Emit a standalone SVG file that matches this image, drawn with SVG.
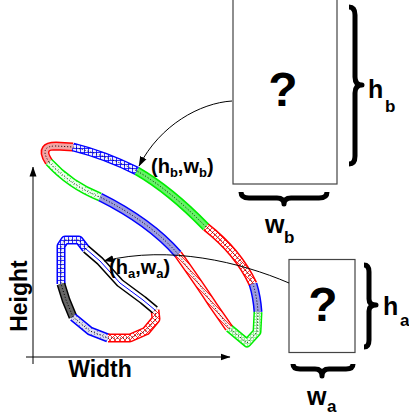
<svg xmlns="http://www.w3.org/2000/svg" width="409" height="419" viewBox="0 0 409 419">
<style>
text{font-family:"Liberation Sans",Arial,sans-serif;font-weight:bold;fill:#000}
.box{fill:#fff;stroke:#444;stroke-width:1.2}
.q{font-size:48px;text-anchor:middle}
.brace{fill:none;stroke:#000;stroke-width:5;stroke-linejoin:round}
.lbl{font-size:25px}
.sub{font-size:17px}
.pl{font-size:20px}
.ps{font-size:13px}
.ax{font-size:23px}
.conn{fill:none;stroke:#000;stroke-width:1}
.o{fill:none;stroke-width:9;stroke-linecap:butt;stroke-linejoin:round}
.i{fill:none;stroke-width:6;stroke-linecap:butt;stroke-linejoin:round}
.dot{fill:none;stroke:#000;stroke-width:1;stroke-dasharray:1 2}
.R{stroke:#f00}.B{stroke:#00f}.G{stroke:#0e0}.K{stroke:#000}
</style>
<defs>
<marker id="ah" viewBox="0 0 10 10" refX="9.5" refY="5" markerWidth="10" markerHeight="10" markerUnits="userSpaceOnUse" orient="auto"><path d="M0,1.5L10,5L0,8.5Z" fill="#000"/></marker>
<pattern id="grid" width="4" height="4" patternUnits="userSpaceOnUse"><rect width="4" height="4" fill="#eef"/><path d="M0,0.5H4M0.5,0V4" stroke="#00f" stroke-width="0.8"/></pattern>
<pattern id="xh" width="5" height="5" patternUnits="userSpaceOnUse"><rect width="5" height="5" fill="#fff"/><path d="M0,0L5,5M5,0L0,5" stroke="#f00" stroke-width="0.8"/></pattern>
<pattern id="dg" width="5" height="5" patternUnits="userSpaceOnUse"><rect width="5" height="5" fill="#fee"/><path d="M0,0L5,5M-1,4L1,6M4,-1L6,1" stroke="#f00" stroke-width="0.8"/></pattern>
<pattern id="gd" width="3" height="3" patternUnits="userSpaceOnUse"><rect width="3" height="3" fill="#fff"/><circle cx="1.5" cy="1.5" r="0.8" fill="none" stroke="#0c0" stroke-width="0.5"/></pattern>
<pattern id="gl" width="3" height="3" patternUnits="userSpaceOnUse"><rect width="3" height="3" fill="#eaffea"/><circle cx="1.5" cy="1.5" r="0.5" fill="#6c6"/></pattern>
<pattern id="bd" width="3" height="3" patternUnits="userSpaceOnUse"><rect width="3" height="3" fill="#dde"/><circle cx="1.5" cy="1.5" r="0.5" fill="#66c"/></pattern>
</defs>

<g id="axes">
<path class="conn" d="M33,364L33,167" marker-end="url(#ah)"/>
<path class="conn" d="M26,357L230,357" marker-end="url(#ah)"/>
<text class="ax" x="100" y="377" text-anchor="middle">Width</text>
<text class="ax" text-anchor="middle" transform="translate(27,296) rotate(-90)">Height</text>
</g>

<g id="loop-b">
<path class="o R" d="M49,162Q43,153 46,149Q48,146 56,146L73,147"/>
<path class="i" stroke="#f2a4a4" d="M49,162Q43,153 46,149Q48,146 56,146L73,147"/>
<path class="o B" d="M73,147Q105,155 137,171"/>
<path class="i" stroke="url(#grid)" d="M73,147Q105,155 137,171"/>
<path class="o G" d="M137,171Q170,190 206,227"/>
<path class="i" stroke="#66f266" d="M137,171Q170,190 206,227"/>
<path class="o R" d="M206,227Q238,252 253,284"/>
<path class="i" stroke="url(#xh)" d="M206,227Q238,252 253,284"/>
<path class="o B" d="M253,284Q257,297 258,312"/>
<path class="i" stroke="#9c9ce0" d="M253,284Q257,297 258,312"/>
<path class="o G" d="M258,312L257,332L247,343L229,328"/>
<path class="i" stroke="url(#gd)" d="M258,312L257,332L247,343L229,328"/>
<path class="o R" d="M229,328L213,305Q200,285 178,254"/>
<path class="i" stroke="url(#dg)" d="M229,328L213,305Q200,285 178,254"/>
<path class="o B" d="M178,254Q150,222 100,197"/>
<path class="i" stroke="#9c9ce0" d="M178,254Q150,222 100,197"/>
<path class="o G" d="M100,197Q70,185 49,162"/>
<path class="i" stroke="url(#gl)" d="M100,197Q70,185 49,162"/>
<path class="dot" d="M49,162Q43,153 46,149Q48,146 56,146L73,147Q105,155 137,171Q170,190 206,227Q238,252 253,284Q257,297 258,312L257,332L247,343L229,328L213,305Q200,285 178,254Q150,222 100,197Q70,185 49,162"/>
</g>

<g id="loop-a">
<path class="o B" d="M86,249L79,240L65,240L61,246L61,284"/>
<path class="i" stroke="url(#grid)" d="M86,249L79,240L65,240L61,246L61,284"/>
<path class="o K" d="M61,284L66,300L73,317"/>
<path class="i" stroke="#666" d="M61,284L66,300L73,317"/>
<path class="o B" d="M73,317L90,331L108,338"/>
<path class="i" stroke="url(#bd)" d="M73,317L90,331L108,338"/>
<path class="o R" d="M108,338L130,338L146,331L156,319L155,310"/>
<path class="i" stroke="url(#xh)" d="M108,338L130,338L146,331L156,319L155,310"/>
<path class="o K" d="M155,310L143,300L120,283L100,261L86,249"/>
<path class="i" stroke="#fff" d="M155,310L143,300L120,283L100,261L86,249"/>
<path fill="none" stroke="#00f" stroke-width="1" d="M155,310L143,300L120,283L100,261L86,249"/>
<path class="dot" d="M86,249L79,240L65,240L61,246L61,284L66,300L73,317L90,331L108,338L130,338L146,331L156,319L155,310"/>
</g>

<g id="box-b">
<rect class="box" x="233" y="-1" width="104" height="185"/>
<text class="q" x="283" y="106">?</text>
<path class="brace" d="M349,7Q355,7 355,15L355,77Q355,85 362,85Q355,85 355,93L355,156Q355,164 349,164"/>
<path class="brace" d="M241,192Q241,198 249,198L277,198Q284,198 284,204Q284,198 291,198L319,198Q327,198 327,192"/>
<text class="lbl" x="368" y="98">h</text><text class="sub" x="385" y="112">b</text>
<text class="lbl" x="265" y="233">w</text><text class="sub" x="284" y="243">b</text>
</g>

<g id="box-a">
<rect class="box" x="289" y="259.5" width="66" height="93"/>
<text class="q" x="323" y="321">?</text>
<path class="brace" d="M364,265Q369,265 369,272L369,299Q369,305 376,305Q369,305 369,311L369,340Q369,347 364,347"/>
<path class="brace" d="M293,364Q293,369 300,369L315,369Q322,369 322,376Q322,369 329,369L346,369Q353,369 353,364"/>
<text class="lbl" x="383" y="315">h</text><text class="sub" x="400" y="326">a</text>
<text class="lbl" x="307" y="405">w</text><text class="sub" x="327" y="412">a</text>
</g>

<g id="labels">
<text class="pl" x="151" y="173">(h<tspan class="ps" dy="4">b</tspan><tspan dy="-4">,w</tspan><tspan class="ps" dy="4">b</tspan><tspan dy="-4">)</tspan></text>
<text class="pl" x="109" y="274">(h<tspan class="ps" dy="4">a</tspan><tspan dy="-4">,w</tspan><tspan class="ps" dy="4">a</tspan><tspan dy="-4">)</tspan></text>
</g>

<g id="connectors">
<path class="conn" d="M232,101C200,103 160,125 139,166" marker-end="url(#ah)"/>
<path class="conn" d="M289,283C240,262 170,245 104,261" marker-end="url(#ah)"/>
</g>
</svg>
